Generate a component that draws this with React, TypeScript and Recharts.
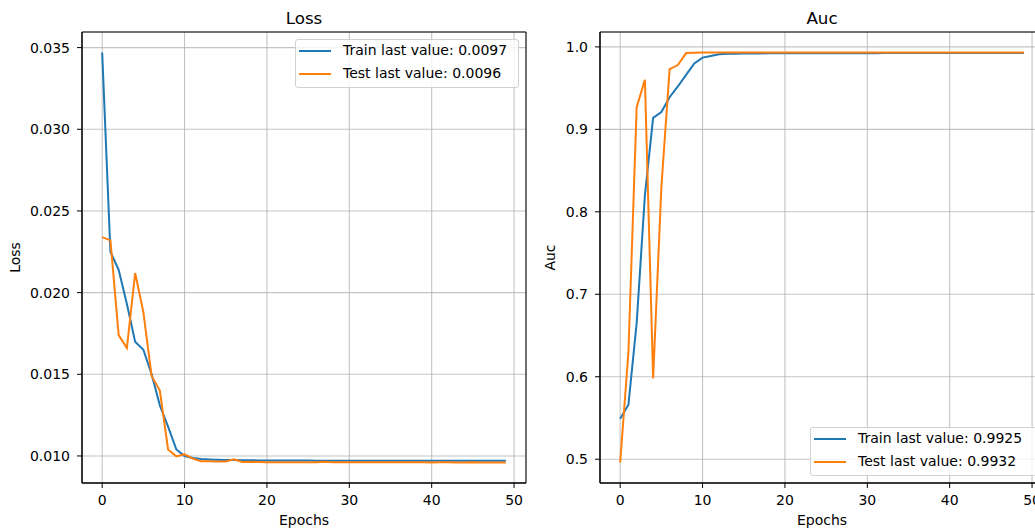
import { LineChart, Line, XAxis, YAxis, CartesianGrid, ReferenceArea } from 'recharts'

// epochs 0..49 on the x axis
const EPOCHS = Array.from({ length: 50 }, (_, i) => i)
const X_TICKS = [0, 10, 20, 30, 40, 50]

const LOSS_TRAIN = [
  0.0347, 0.0225, 0.0214, 0.0193, 0.017, 0.0165, 0.015, 0.0131, 0.0118, 0.0104,
  0.01, 0.00988, 0.00982, 0.00979, 0.00977, 0.00976, 0.00975, 0.00974, 0.00974, 0.00973,
  0.00973, 0.00973, 0.00972, 0.00972, 0.00972, 0.00972, 0.00971, 0.00971, 0.00971, 0.00971,
  0.00971, 0.00971, 0.0097, 0.0097, 0.0097, 0.0097, 0.0097, 0.0097, 0.0097, 0.0097,
  0.0097, 0.0097, 0.0097, 0.0097, 0.0097, 0.0097, 0.0097, 0.0097, 0.0097, 0.0097,
]
const LOSS_TEST = [
  0.0234, 0.0232, 0.0174, 0.0166, 0.0212, 0.0188, 0.0149, 0.014, 0.0104, 0.00998,
  0.0101, 0.00984, 0.00968, 0.00968, 0.00966, 0.00966, 0.0098, 0.00963, 0.00965, 0.00963,
  0.00962, 0.00962, 0.00961, 0.00962, 0.00962, 0.00961, 0.00962, 0.00964, 0.00961, 0.00961,
  0.00962, 0.00961, 0.00961, 0.00961, 0.00961, 0.00961, 0.00961, 0.00962, 0.00961, 0.00961,
  0.0096, 0.00961, 0.00961, 0.0096, 0.0096, 0.00961, 0.0096, 0.0096, 0.0096, 0.0096,
]
const AUC_TRAIN = [
  0.549, 0.566, 0.665, 0.82, 0.914, 0.921, 0.939, 0.952, 0.966, 0.98,
  0.987, 0.989, 0.9912, 0.9916, 0.9918, 0.992, 0.9921, 0.9921, 0.9922, 0.9922,
  0.9922, 0.9923, 0.9923, 0.9923, 0.9923, 0.9924, 0.9924, 0.9924, 0.9924, 0.9924,
  0.9924, 0.9924, 0.9925, 0.9925, 0.9925, 0.9925, 0.9925, 0.9925, 0.9925, 0.9925,
  0.9925, 0.9925, 0.9925, 0.9925, 0.9925, 0.9925, 0.9925, 0.9925, 0.9925, 0.9925,
]
const AUC_TEST = [
  0.496, 0.63, 0.927, 0.96, 0.598, 0.83, 0.973, 0.978, 0.9925, 0.993,
  0.9931, 0.9931, 0.9932, 0.9932, 0.9932, 0.9932, 0.9932, 0.9932, 0.9932, 0.9932,
  0.9932, 0.9932, 0.9932, 0.9932, 0.9932, 0.9932, 0.9932, 0.9932, 0.9932, 0.9932,
  0.9932, 0.9932, 0.9932, 0.9932, 0.9932, 0.9932, 0.9932, 0.9932, 0.9932, 0.9932,
  0.9932, 0.9932, 0.9932, 0.9932, 0.9932, 0.9932, 0.9932, 0.9932, 0.9932, 0.9932,
]

const LOSS_TICKS = [0.01, 0.015, 0.02, 0.025, 0.03, 0.035]
const AUC_TICKS = [0.5, 0.6, 0.7, 0.8, 0.9, 1.0]

const BLUE = '#1f77b4'
const ORANGE = '#ff7f0e'
const FONT = '"DejaVu Sans", sans-serif'

const CHART_W = 540
const CHART_H = 529
const Y_AXIS_W = 82
const PLOT_W = 444

// matplotlib-style 5% margins
const withMargin = (lo: number, hi: number): [number, number] => {
  const r = hi - lo
  return [lo - r * 0.05, hi + r * 0.05]
}

const X_DOMAIN = withMargin(0, EPOCHS.length - 1)

interface LegendBox {
  left: number
  top: number
  width: number
  height: number
}

interface PanelProps {
  left: number
  title: string
  yLabel: string
  yLabelOffset: number
  train: number[]
  test: number[]
  yTicks: number[]
  digits: number
  legend: LegendBox
  trainLabel: string
  testLabel: string
}

function Panel({ left, title, yLabel, yLabelOffset, train, test, yTicks, digits, legend, trainLabel, testLabel }: PanelProps) {
  const all = [...train, ...test]
  const yDomain = withMargin(Math.min(...all), Math.max(...all))
  const data = EPOCHS.map((epoch, i) => ({ epoch, train: train[i], test: test[i] }))
  const plotLeft = left + Y_AXIS_W

  return (
    <>
      <div
        style={{
          position: 'absolute',
          left: plotLeft,
          top: 10,
          width: PLOT_W,
          textAlign: 'center',
          fontSize: 16.7,
          lineHeight: '17px',
          color: '#000',
        }}
      >
        {title}
      </div>
      <div style={{ position: 'absolute', left, top: 0 }}>
        <LineChart width={CHART_W} height={CHART_H} data={data} margin={{ top: 32, right: 14, left: 0, bottom: 0 }}>
          <CartesianGrid stroke="#b0b0b0" strokeWidth={1.1} strokeOpacity={0.75} />
          <XAxis
            dataKey="epoch"
            type="number"
            domain={X_DOMAIN}
            ticks={X_TICKS}
            allowDataOverflow
            height={46}
            tickSize={5}
            tickMargin={7}
            tick={{ fill: '#000', fontSize: 14 }}
            axisLine={{ stroke: '#000' }}
            tickLine={{ stroke: '#000' }}
            label={{ value: 'Epochs', position: 'insideBottom', offset: 4, fill: '#000', fontSize: 14 }}
          />
          <YAxis
            type="number"
            domain={yDomain}
            ticks={yTicks}
            allowDataOverflow
            width={Y_AXIS_W}
            tickSize={5}
            tickMargin={7}
            tick={{ fill: '#000', fontSize: 14 }}
            axisLine={{ stroke: '#000' }}
            tickLine={{ stroke: '#000' }}
            tickFormatter={(v: number) => v.toFixed(digits)}
            label={{
              value: yLabel,
              angle: -90,
              position: 'insideLeft',
              offset: yLabelOffset,
              fill: '#000',
              fontSize: 14,
              style: { textAnchor: 'middle' },
            }}
          />
          <ReferenceArea
            x1={X_DOMAIN[0]}
            x2={X_DOMAIN[1]}
            y1={yDomain[0]}
            y2={yDomain[1]}
            fill="none"
            stroke="#000"
            strokeWidth={1}
            ifOverflow="visible"
          />
          <Line type="linear" dataKey="train" stroke={BLUE} strokeWidth={2} dot={false} isAnimationActive={false} />
          <Line type="linear" dataKey="test" stroke={ORANGE} strokeWidth={2} dot={false} isAnimationActive={false} />
        </LineChart>
      </div>
      <div
        style={{
          position: 'absolute',
          left: legend.left,
          top: legend.top,
          width: legend.width,
          height: legend.height,
          boxSizing: 'border-box',
          border: '1px solid #d0d0d0',
          borderRadius: 3,
          background: 'rgba(255,255,255,0.8)',
          fontSize: 14,
        }}
      >
        {[
          { color: BLUE, text: trainLabel, y: 11 },
          { color: ORANGE, text: testLabel, y: 33.6 },
        ].map((row) => (
          <div key={row.text}>
            <div style={{ position: 'absolute', left: 3, top: row.y - 1, width: 32, height: 2, background: row.color }} />
            <div style={{ position: 'absolute', left: 47, top: row.y - 9, lineHeight: '17px', whiteSpace: 'nowrap', color: '#000' }}>
              {row.text}
            </div>
          </div>
        ))}
      </div>
    </>
  )
}

export default function App() {
  return (
    <div
      style={{
        position: 'absolute',
        left: 0,
        top: 0,
        width: 1035,
        height: 529,
        overflow: 'hidden',
        background: '#fff',
        fontFamily: FONT,
      }}
    >
      <Panel
        left={0}
        title="Loss"
        yLabel="Loss"
        yLabelOffset={15}
        train={LOSS_TRAIN}
        test={LOSS_TEST}
        yTicks={LOSS_TICKS}
        digits={3}
        legend={{ left: 295, top: 39, width: 224, height: 49 }}
        trainLabel={`Train last value: ${LOSS_TRAIN[LOSS_TRAIN.length - 1].toFixed(4)}`}
        testLabel={`Test last value: ${LOSS_TEST[LOSS_TEST.length - 1].toFixed(4)}`}
      />
      <Panel
        left={518}
        title="Auc"
        yLabel="Auc"
        yLabelOffset={32}
        train={AUC_TRAIN}
        test={AUC_TEST}
        yTicks={AUC_TICKS}
        digits={1}
        legend={{ left: 810, top: 427, width: 227, height: 49 }}
        trainLabel={`Train last value: ${AUC_TRAIN[AUC_TRAIN.length - 1].toFixed(4)}`}
        testLabel={`Test last value: ${AUC_TEST[AUC_TEST.length - 1].toFixed(4)}`}
      />
    </div>
  )
}
